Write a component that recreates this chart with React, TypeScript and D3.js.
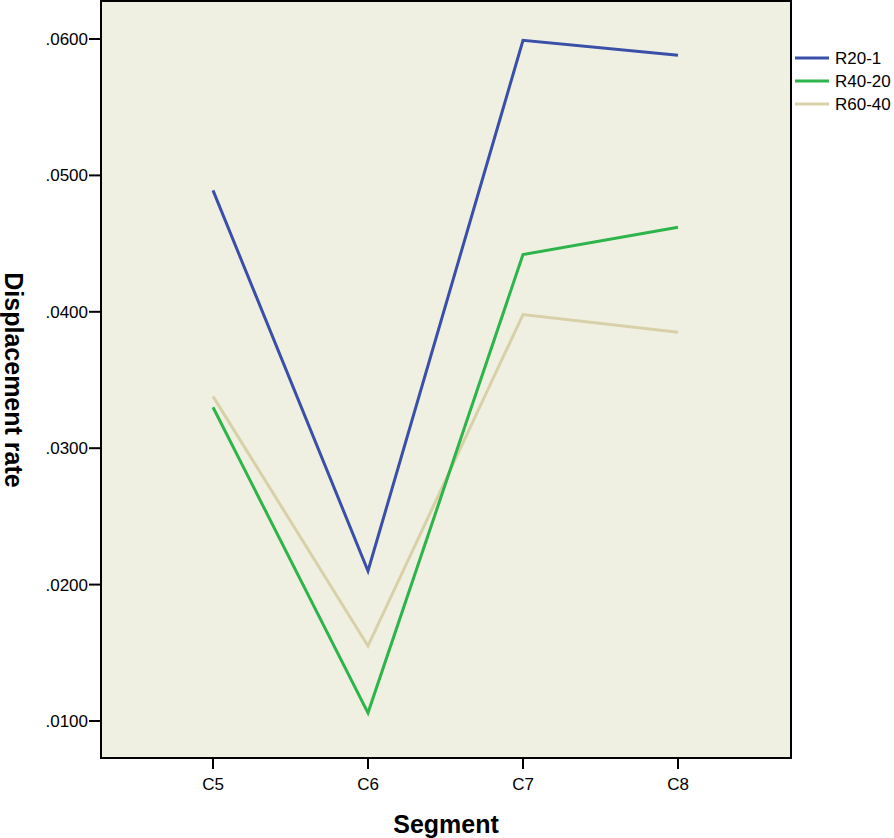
import React from "react";
import * as d3 from "d3";

const segments = ["C5", "C6", "C7", "C8"];
const seriesNames = ["R20-1", "R40-20", "R60-40"];
const r20_1 = [0.0489, 0.0210, 0.0599, 0.0588];
const r40_20 = [0.0330, 0.0106, 0.0442, 0.0462];
const r60_40 = [0.0338, 0.0155, 0.0398, 0.0385];
const yTicks = [0.01, 0.02, 0.03, 0.04, 0.05, 0.06];
const colors = ["#3a50a8", "#2db44a", "#d8d0a8"];

export default function App() {
  const W = 894, H = 838;
  const left = 101, right = 791, top = 1, bottom = 758;
  const x = d3.scalePoint<string>().domain(segments).range([213, 678]);
  const y = d3.scaleLinear().domain([0.01, 0.06]).range([721, 39]);
  const line = d3.line<number>().x((_, i) => x(segments[i])!).y((d) => y(d));
  const data = [r20_1, r40_20, r60_40];
  const font = "Liberation Sans, Arial, Helvetica, sans-serif";
  return (
    <svg width={W} height={H} style={{ position: "absolute", left: 0, top: 0 }} fontFamily={font}>
      <rect x={left} y={top} width={right - left} height={bottom - top} fill="#f0f0e2" />
      {[2, 1, 0].map((k) => (
        <path key={k} d={line(data[k])!} fill="none" stroke={colors[k]} strokeWidth={3} strokeLinejoin="miter" />
      ))}
      <rect x={left} y={top} width={right - left} height={bottom - top} fill="none" stroke="#000" strokeWidth={2} />
      {yTicks.map((t) => (
        <g key={t}>
          <line x1={89} x2={left} y1={y(t)} y2={y(t)} stroke="#000" strokeWidth={2} />
          <text x={88} y={y(t)} dy="0.35em" textAnchor="end" fontSize={17}>
            {d3.format(".4f")(t).replace(/^0/, "")}
          </text>
        </g>
      ))}
      {segments.map((s) => (
        <g key={s}>
          <line x1={x(s)} x2={x(s)} y1={bottom} y2={769} stroke="#000" strokeWidth={2} />
          <text x={x(s)} y={790} textAnchor="middle" fontSize={17}>{s}</text>
        </g>
      ))}
      <text x={446} y={833} textAnchor="middle" fontSize={25} fontWeight="bold">Segment</text>
      <text transform="translate(5,380) rotate(90)" textAnchor="middle" fontSize={25} fontWeight="bold">Displacement rate</text>
      {seriesNames.map((n, i) => (
        <g key={n}>
          <line x1={795} x2={829} y1={58 + i * 23} y2={58 + i * 23} stroke={colors[i]} strokeWidth={3} />
          <text x={835} y={58 + i * 23} dy="0.35em" fontSize={17}>{n}</text>
        </g>
      ))}
    </svg>
  );
}
